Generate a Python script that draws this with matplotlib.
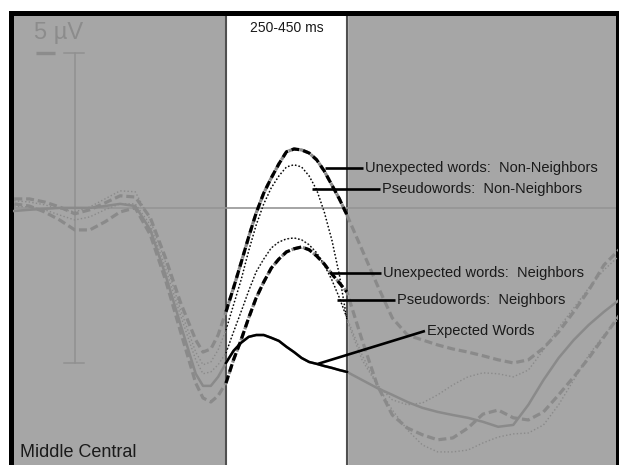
import matplotlib
matplotlib.use('Agg')
import matplotlib.pyplot as plt
import numpy as np

plt.rcParams['font.family'] = ['Liberation Sans', 'DejaVu Sans']

# time in ms, amplitude in microvolts (negative plotted up)
times = [-100, -75, -50, -25, 0, 25, 50, 75, 100, 125, 150, 175,
         200, 212, 225, 237,
         250, 262.5, 275, 287.5, 300, 312.5, 325, 337.5, 350, 362.5, 375, 387.5, 400, 412.5, 425, 437.5, 450,
         475, 500, 525, 550, 575, 600, 625, 650, 675, 700, 725, 750, 775, 800, 825, 850, 875, 900]

unexp_nonneigh = [-0.29, -0.29, -0.19, -0.03, 0.19, 0.06, -0.16, -0.39, -0.35, 0.32, 1.61, 3.06,
                  4.26, 4.65, 4.55, 4.10,
                  3.35, 2.58, 1.77, 0.94, 0.16, -0.48, -0.97, -1.42, -1.81, -1.90, -1.87, -1.77, -1.55, -1.19, -0.74, -0.29, 0.23,
                  1.35, 2.48, 3.55, 4.10, 4.26, 4.42, 4.55, 4.65, 4.77, 4.90, 5.00, 4.90, 4.52, 4.00, 3.35, 2.65, 1.84, 1.35]
pseudo_nonneigh = [-0.23, -0.19, -0.10, 0.03, 0.13, -0.03, -0.29, -0.55, -0.52, 0.39, 1.74, 3.29,
                   4.65, 5.06, 4.97, 4.58,
                   3.94, 3.13, 2.32, 1.39, 0.55, -0.13, -0.65, -1.03, -1.32, -1.39, -1.32, -1.03, -0.58, 0.13, 1.03, 2.16, 3.61,
                   4.90, 5.71, 6.19, 6.35, 6.29, 6.03, 5.71, 5.45, 5.32, 5.35, 5.45, 5.23, 4.58, 3.87, 3.23, 2.58, 2.00, 1.55]
unexp_neigh = [-0.13, -0.06, 0.13, 0.39, 0.71, 0.71, 0.45, 0.13, 0.0, 0.87, 2.32, 4.00,
               5.65, 6.13, 6.26, 6.06,
               5.65, 4.90, 4.26, 3.55, 2.90, 2.39, 1.94, 1.65, 1.42, 1.32, 1.26, 1.35, 1.55, 1.81, 2.13, 2.42, 2.71,
               4.26, 5.71, 6.68, 7.10, 7.32, 7.48, 7.42, 7.10, 6.65, 6.52, 6.77, 6.84, 6.58, 6.03, 5.45, 4.84, 4.16, 3.48]
pseudo_neigh = [-0.06, -0.03, 0.06, 0.23, 0.39, 0.29, 0.06, -0.13, -0.13, 0.55, 1.94, 3.48,
                4.90, 5.35, 5.29, 5.06,
                4.68, 4.00, 3.35, 2.68, 2.06, 1.65, 1.29, 1.10, 1.00, 0.97, 1.03, 1.19, 1.45, 1.84, 2.32, 2.90, 3.55,
                4.74, 5.71, 6.52, 7.16, 7.65, 7.87, 7.87, 7.81, 7.58, 7.39, 7.29, 7.26, 7.00, 6.35, 5.55, 4.74, 4.10, 3.55]
expected = [0.10, 0.06, 0.03, 0.0, 0.0, 0.0, -0.06, -0.13, -0.06, 0.71, 2.16, 3.77,
            5.35, 5.74, 5.74, 5.45,
            5.00, 4.61, 4.35, 4.16, 4.10, 4.10, 4.19, 4.29, 4.48, 4.65, 4.84, 4.97, 5.03, 5.10, 5.16, 5.23, 5.29,
            5.55, 5.81, 6.03, 6.26, 6.45, 6.58, 6.68, 6.77, 6.90, 7.06, 7.00, 6.35, 5.55, 4.84, 4.26, 3.77, 3.35, 2.97]

labels = ['Unexpected words:  Non-Neighbors', 'Pseudowords:  Non-Neighbors',
          'Unexpected words:  Neighbors', 'Pseudowords:  Neighbors', 'Expected Words']
window = (250, 450)

bg = '#a6a6a6'
grey = '#8a8a8a'

fig = plt.figure(figsize=(6.19, 4.65), dpi=100)
ax = fig.add_axes([0.017, -0.0065, 0.982, 0.9775])
ax.set_facecolor(bg)
ax.set_xlim(-106.2, 898.8)
ax.set_ylim(8.39, -6.27)
ax.set_xticks([])
ax.set_yticks([])
for side in ['left', 'top', 'right', 'bottom']:
    ax.spines[side].set_linewidth(3.6)
    ax.spines[side].set_color('black')

# analysis window
ax.axvspan(window[0], window[1], color='white', zorder=1)
for w in window:
    ax.axvline(w, color='#505050', lw=1.5, zorder=2)
ax.axhline(0, color='#959595', lw=1.2, zorder=2)

# scale bar
ax.plot([0, 0], [-5, 5], color='#909090', lw=1.1, zorder=2)
ax.plot([-17.8, 15.3], [-5, -5], color='#909090', lw=1.1, zorder=2)
ax.plot([-17.8, 15.3], [5, 5], color='#909090', lw=1.1, zorder=2)
ax.plot([-64, -32.6], [-5, -5], color='#8c8c8c', lw=2.4, zorder=2, solid_capstyle='butt')
ax.text(-68, -5.65, '5 µV', fontsize=17, color='#8c8c8c', va='center', ha='left', zorder=3)

t = np.array(times)
inwin = (t >= window[0]) & (t <= window[1])
styles = [
    dict(lw=2.3, ls=(0, (2.5, 1.2))),
    dict(lw=1.0, ls=(0, (1, 1.6))),
    dict(lw=2.3, ls=(0, (2.5, 1.2))),
    dict(lw=1.0, ls=(0, (1, 1.6))),
    dict(lw=1.8, ls='-'),
]
series = [unexp_nonneigh, pseudo_nonneigh, unexp_neigh, pseudo_neigh, expected]
for vals, st in zip(series, styles):
    v = np.array(vals)
    ax.plot(t, v, color=grey, zorder=3, **st)
    ax.plot(t[inwin], v[inwin], color='black', zorder=4, **st)

# label pointers: (curve point, line end / text start)
pointers = [((413.6, -1.29), (476.4, -1.29)),
            ((392.1, -0.61), (504.5, -0.61)),
            ((425.2, 2.10), (506.2, 2.10)),
            ((433.5, 2.97), (529.3, 2.97)),
            ((402.1, 5.03), (579.0, 3.97))]
for lab, (p0, p1) in zip(labels, pointers):
    ax.plot([p0[0], p1[0]], [p0[1], p1[1]], color='black', lw=1.9, zorder=5,
            solid_capstyle='butt')
    ax.text(p1[0] + 3, p1[1], lab, fontsize=10.5, color='#1a1a1a', va='center', ha='left', zorder=5)

ax.text(350, -5.81, '250-450 ms', fontsize=10, color='#1a1a1a', ha='center', va='center', zorder=5)
ax.text(-91, 7.9, 'Middle Central', fontsize=13, color='#1a1a1a', ha='left', va='center', zorder=5)

fig.savefig('out.png', dpi=100, facecolor='white')
